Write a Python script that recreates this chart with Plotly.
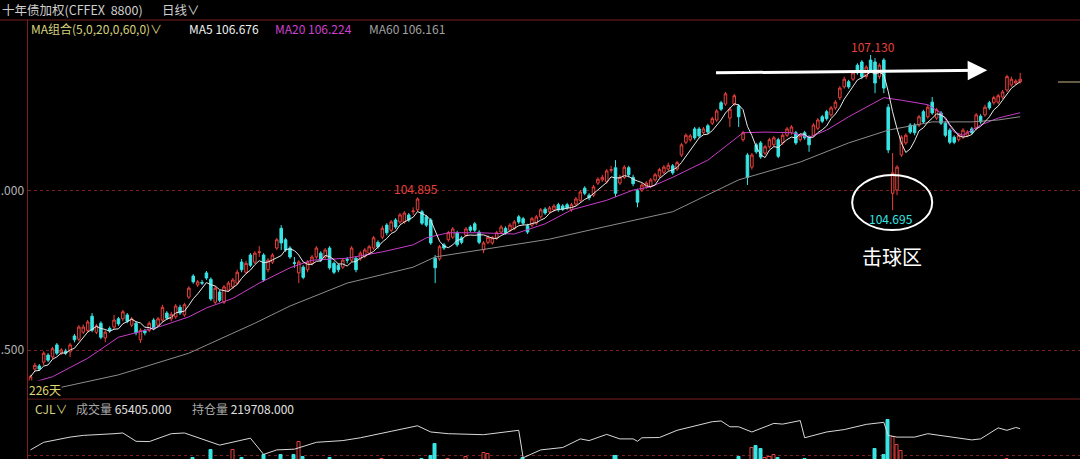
import plotly.graph_objects as go
import pandas as pd

# ---------------- data ----------------
opens = [
102.00,102.20,102.25,102.31,102.42,102.39,102.58,102.45,102.48,102.47,
102.72,102.67,102.78,102.81,103.03,102.78,102.92,102.69,102.84,102.86,
102.99,102.99,103.05,102.89,102.92,102.66,102.80,102.81,102.97,102.89,
102.97,103.08,102.99,103.02,103.17,103.05,103.33,103.66,103.52,103.56,
103.71,103.61,103.25,103.41,103.25,103.44,103.49,103.55,103.88,103.72,
103.99,103.88,104.03,103.99,103.76,103.88,104.10,104.41,104.23,104.10,
103.87,103.71,103.80,103.76,103.86,103.96,104.02,103.96,104.10,103.86,
103.83,103.80,103.92,103.91,103.94,103.93,103.97,104.02,104.10,104.19,
104.27,104.46,104.38,104.54,104.51,104.51,104.62,104.67,104.70,104.67,
104.59,104.54,103.94,103.93,104.15,104.23,104.27,104.34,104.26,104.30,
104.43,104.48,104.35,104.07,104.19,104.18,104.26,104.35,104.41,104.38,
104.41,104.59,104.56,104.45,104.46,104.49,104.59,104.71,104.67,104.70,
104.78,104.76,104.78,104.70,104.79,104.85,105.04,104.93,104.93,105.12,
105.17,105.14,105.32,105.36,105.12,105.21,105.36,105.21,105.00,105.01,
105.06,105.07,105.17,105.23,105.29,105.34,105.39,105.34,105.56,105.76,
105.80,105.97,105.97,105.91,106.02,106.06,106.11,106.38,106.36,106.14,
106.36,106.33,105.80,105.56,105.37,105.72,105.75,105.59,105.69,105.72,
105.80,105.75,105.87,105.91,105.91,105.80,105.91,105.84,105.87,105.98,
106.16,106.24,106.19,106.30,106.46,106.63,106.71,106.75,106.97,107.02,
106.79,107.05,107.02,106.79,107.05,106.31,104.96,105.01,105.56,105.75,
106.03,106.03,106.03,106.24,106.16,106.39,106.14,106.22,106.06,105.95,
105.84,105.80,105.84,105.87,105.97,105.98,106.17,106.19,106.38,106.38,
106.39,106.47,106.58,106.66,106.69,106.71]
highs = [
102.11,102.30,102.28,102.48,102.45,102.55,102.61,102.53,102.52,102.61,
102.75,102.89,102.90,102.97,103.08,102.91,102.95,102.81,102.87,103.05,
103.02,103.13,103.08,103.02,102.95,102.84,102.83,102.95,103.00,103.02,
103.21,103.11,103.10,103.22,103.21,103.24,103.50,103.69,103.60,103.60,
103.74,103.64,103.50,103.44,103.52,103.58,103.63,103.76,103.93,103.90,
104.02,104.05,104.13,104.02,103.94,104.02,104.26,104.46,104.26,104.13,
103.96,103.91,103.83,103.91,103.99,104.13,104.05,104.10,104.13,103.89,
103.86,103.94,103.96,104.13,103.97,104.05,104.10,104.15,104.29,104.22,
104.45,104.49,104.54,104.57,104.65,104.68,104.65,104.74,104.895,104.70,
104.62,104.57,103.99,104.15,104.18,104.37,104.43,104.37,104.29,104.43,
104.46,104.51,104.38,104.21,104.30,104.29,104.37,104.46,104.44,104.49,
104.54,104.62,104.59,104.48,104.59,104.62,104.73,104.74,104.76,104.79,
104.81,104.79,104.81,104.81,104.90,105.01,105.07,104.96,105.09,105.21,
105.25,105.34,105.39,105.48,105.25,105.40,105.39,105.25,105.03,105.12,
105.15,105.20,105.28,105.36,105.40,105.44,105.42,105.47,105.75,105.90,
105.89,106.00,106.00,106.00,106.05,106.16,106.28,106.41,106.55,106.31,
106.52,106.36,105.94,105.59,105.59,105.75,105.78,105.72,105.83,105.86,
105.83,105.90,106.00,106.03,105.94,105.90,105.94,105.87,106.06,106.14,
106.19,106.27,106.33,106.42,106.64,106.79,106.74,106.88,107.00,107.05,
106.97,107.13,107.08,107.00,107.08,106.36,105.59,105.40,105.87,105.90,
106.06,106.06,106.19,106.27,106.35,106.47,106.30,106.25,106.09,105.98,
105.87,105.90,105.98,105.95,106.00,106.22,106.20,106.35,106.41,106.49,
106.52,106.58,106.82,106.79,106.75,106.85]
lows = [
101.96,102.17,102.17,102.26,102.31,102.36,102.42,102.42,102.42,102.39,
102.62,102.64,102.75,102.78,102.78,102.75,102.67,102.62,102.77,102.83,
102.88,102.95,102.92,102.86,102.73,102.61,102.73,102.78,102.81,102.86,
102.94,102.97,102.95,102.99,103.05,103.02,103.30,103.54,103.49,103.52,
103.60,103.27,103.22,103.25,103.22,103.41,103.46,103.52,103.72,103.69,
103.80,103.85,103.96,103.57,103.72,103.85,104.07,104.07,104.04,103.93,
103.79,103.55,103.61,103.72,103.83,103.93,103.88,103.93,103.76,103.69,
103.72,103.77,103.86,103.88,103.72,103.90,103.94,103.99,104.07,104.09,
104.24,104.30,104.35,104.40,104.48,104.48,104.51,104.62,104.67,104.46,
104.43,104.15,103.55,103.90,104.07,104.20,104.24,104.12,104.16,104.27,
104.35,104.35,104.16,104.02,104.16,104.15,104.23,104.32,104.31,104.35,
104.38,104.48,104.46,104.32,104.43,104.46,104.56,104.62,104.64,104.67,
104.67,104.68,104.70,104.67,104.76,104.82,104.93,104.85,104.90,105.09,
105.14,105.11,105.28,104.90,105.09,105.18,105.21,105.07,104.74,104.98,
105.03,105.04,105.14,105.20,105.26,105.31,105.25,105.31,105.53,105.73,
105.77,105.80,105.83,105.88,105.89,106.03,106.08,106.25,106.33,106.00,
106.33,106.00,105.77,105.09,105.33,105.58,105.50,105.56,105.66,105.69,
105.51,105.72,105.84,105.88,105.72,105.77,105.80,105.61,105.84,105.95,
106.06,106.10,106.16,106.27,106.42,106.60,106.60,106.72,106.82,106.75,
106.75,106.85,106.53,106.75,106.53,105.59,104.695,104.93,105.53,105.72,
105.89,105.87,106.00,106.05,106.13,106.19,106.11,106.03,105.84,105.73,
105.73,105.77,105.81,105.84,105.88,105.95,106.05,106.16,106.27,106.35,
106.36,106.44,106.55,106.63,106.66,106.68]
closes = [
102.08,102.26,102.20,102.45,102.34,102.52,102.45,102.50,102.45,102.58,
102.66,102.86,102.86,102.94,102.81,102.88,102.70,102.78,102.80,102.97,
102.91,103.10,102.95,102.99,102.77,102.81,102.77,102.92,102.84,102.99,
103.17,103.00,103.06,103.19,103.08,103.21,103.47,103.57,103.57,103.55,
103.63,103.30,103.47,103.28,103.49,103.55,103.60,103.72,103.76,103.86,
103.83,104.02,104.04,103.60,103.91,103.99,104.23,104.18,104.07,103.96,
103.86,103.88,103.64,103.88,103.96,104.10,103.91,104.07,103.79,103.72,
103.76,103.91,103.91,104.10,103.76,104.02,104.07,104.12,104.26,104.12,
104.41,104.34,104.51,104.43,104.62,104.65,104.54,104.68,104.87,104.49,
104.46,104.18,103.79,104.12,104.10,104.34,104.40,104.15,104.19,104.40,
104.38,104.38,104.19,104.18,104.27,104.26,104.34,104.43,104.34,104.46,
104.51,104.51,104.49,104.35,104.56,104.59,104.70,104.65,104.73,104.76,
104.70,104.71,104.73,104.78,104.87,104.98,104.96,104.89,105.06,105.18,
105.21,105.31,105.33,104.96,105.21,105.37,105.25,105.11,104.82,105.09,
105.12,105.17,105.25,105.33,105.37,105.40,105.28,105.44,105.72,105.87,
105.86,105.83,105.86,105.97,105.92,106.13,106.25,106.28,106.52,106.28,
106.49,106.16,105.91,105.21,105.56,105.61,105.53,105.69,105.80,105.83,
105.54,105.87,105.97,106.00,105.75,105.87,105.83,105.72,106.03,106.11,
106.09,106.13,106.30,106.39,106.61,106.75,106.63,106.85,106.85,106.79,
106.94,106.89,106.69,106.97,106.61,105.64,105.28,105.37,105.84,105.87,
105.92,105.91,106.16,106.08,106.31,106.22,106.27,106.06,105.87,105.76,
105.76,105.87,105.95,105.92,105.91,106.19,106.08,106.31,106.30,106.46,
106.49,106.55,106.79,106.75,106.72,106.75]

ma20_idx = [0,5,13,20,30,36,40,46,52,59,64,72,80,87,90,95,102,110,117,123,
            131,137,141,146,154,158,162,167,173,177,181,186,190,194,198,204,207,210,212,216,
            220,225]
ma20_val = [101.98,102.08,102.37,102.70,102.88,103.02,103.16,103.31,103.55,103.79,
            103.91,103.94,104.04,104.15,104.26,104.34,104.34,104.32,104.48,104.70,
            104.85,105.01,105.06,105.21,105.48,105.69,105.91,105.92,105.91,105.84,
            105.95,106.16,106.31,106.46,106.42,106.35,106.22,105.92,105.87,106.03,
            106.14,106.224]
ma60_idx = [0,6,20,36,51,59,72,87,92,102,118,127,146,161,175,186,195,205,214,220,225]
ma60_val = [101.79,101.90,102.11,102.45,102.92,103.19,103.55,103.80,103.96,104.07,
            104.24,104.38,104.67,105.17,105.45,105.75,105.95,106.08,106.08,106.11,106.161]

vol_idx = [37,41,46,48,53,57,60,61,62,68,80,89,91,92,95,99,103,104,112,133,
           161,164,165,166,167,168,169,170,176,192,194,195,196,197,198,222]
vol_val = [100000,125300,125300,100000,110000,110000,110000,150000,104000,100000,
           99000,99000,107000,143000,99000,104000,117000,113000,101600,107000,
           105000,132500,136000,128000,102000,104000,109000,100000,99000,128000,
           109000,215000,164000,140000,122000,99000]

oi_idx = [0,3,9,12,19,21,24,27,32,35,43,50,53,56,60,65,71,75,82,87,88,91,95,103,110,111,112,
          116,121,125,127,131,134,137,138,139,143,147,155,157,159,161,164,169,171,175,176,
          181,185,190,194,195,197,201,204,207,210,214,216,220,222,224,225]
oi_val = [166500,185500,198500,202800,207000,208800,188000,187300,207000,208800,178500,195800,
          155300,166500,168300,185500,189800,196800,213000,224300,226800,211300,207000,204500,
          213000,215500,146800,166500,172500,194000,189800,205300,194000,194000,188000,196800,
          197500,215500,237000,238800,224300,224300,211300,232800,231000,239800,196800,211300,
          217300,230300,235500,202800,198500,198500,207000,202800,196800,191500,194000,221500,
          215500,222500,219708]

# tick labels as they are visible in the picture (left part cut off by the panel edge)
ticks_main = [102.5, 105.0]
ticks_main_text = [".500", ".000"]
vol_tick = [110000]
vol_tick_text = ["11万"]

# ---------------- styles ----------------
RED = "#e8403c"
CYAN = "#38e4e4"
GRID = "#7a1f1f"
FONT = "Noto Sans CJK SC"
W, H = 1080, 459

x = list(range(len(closes)))
ma5 = pd.Series(closes).rolling(5, min_periods=1).mean().tolist()

fig = go.Figure()
fig.add_trace(go.Candlestick(
    x=x, open=opens, high=highs, low=lows, close=closes,
    increasing=dict(line=dict(color=RED, width=1), fillcolor="#000000"),
    decreasing=dict(line=dict(color=CYAN, width=1), fillcolor=CYAN),
    whiskerwidth=0, xaxis="x", yaxis="y", showlegend=False, hoverinfo="skip"))
fig.add_trace(go.Scatter(x=ma20_idx, y=ma20_val, mode="lines",
                         line=dict(color="#c83cc8", width=1), xaxis="x", yaxis="y", showlegend=False))
fig.add_trace(go.Scatter(x=ma60_idx, y=ma60_val, mode="lines",
                         line=dict(color="#8c8c8c", width=1), xaxis="x", yaxis="y", showlegend=False))
fig.add_trace(go.Scatter(x=x, y=ma5, mode="lines",
                         line=dict(color="#e8e8e8", width=1), xaxis="x", yaxis="y", showlegend=False))

vol_up = [closes[i] >= opens[i] for i in vol_idx]
fig.add_trace(go.Bar(
    x=vol_idx, y=vol_val, width=0.7, xaxis="x2", yaxis="y2", showlegend=False,
    marker=dict(color=["#000000" if u else CYAN for u in vol_up],
                line=dict(color=[RED if u else CYAN for u in vol_up], width=1))))
fig.add_trace(go.Scatter(x=oi_idx, y=oi_val, mode="lines", line=dict(color="#d8d8d8", width=1),
                         xaxis="x2", yaxis="y3", showlegend=False))

def px_x(p):
    return p / W

def px_y(p):
    return (H - p) / H

main_bottom = px_y(399)
main_top = px_y(20)
left = px_x(27.5)
xr = [-0.68, 238.6]

fig.update_layout(
    width=W, height=H, margin=dict(l=0, r=0, t=0, b=0, autoexpand=False),
    paper_bgcolor="#000000", plot_bgcolor="#000000",
    font=dict(family=FONT, color="#c8c8c8"),
    bargap=0, boxgap=0.18,
    xaxis=dict(domain=[left, 1], range=xr, showgrid=False, zeroline=False, automargin=False,
               showticklabels=False, rangeslider=dict(visible=False), anchor="y"),
    xaxis2=dict(domain=[left, 1], range=xr, showgrid=False, zeroline=False, automargin=False,
                showticklabels=False, anchor="y2", matches="x"),
    yaxis=dict(domain=[main_bottom, main_top], range=[101.731, 107.679], automargin=False,
               tickvals=ticks_main, ticktext=ticks_main_text,
               tickfont=dict(size=12, color="#b4b4b4", family=FONT),
               showgrid=True, gridcolor=GRID, griddash="dot", gridwidth=1,
               showline=True, linecolor=GRID, linewidth=1, zeroline=False, ticks=""),
    yaxis2=dict(domain=[0, main_bottom], range=[98000, 278000], automargin=False,
                tickvals=vol_tick, ticktext=vol_tick_text,
                tickfont=dict(size=11, color="#b4b4b4", family=FONT),
                showgrid=True, gridcolor=GRID, griddash="dot", gridwidth=1,
                showline=True, linecolor=GRID, linewidth=1, zeroline=False, ticks=""),
    yaxis3=dict(overlaying="y2", range=[143750, 293750], visible=False, automargin=False),
)

shapes = [
    dict(type="line", xref="paper", yref="paper", x0=0, x1=1, y0=main_top, y1=main_top,
         line=dict(color=GRID, width=1)),
    dict(type="line", xref="paper", yref="paper", x0=left, x1=1, y0=main_bottom, y1=main_bottom,
         line=dict(color=GRID, width=1)),
    dict(type="line", xref="paper", yref="paper", x0=px_x(1058), x1=1, y0=px_y(82), y1=px_y(82),
         line=dict(color="#c8b882", width=1)),
    dict(type="circle", xref="x", yref="y", x0=186.8, x1=205.0, y0=104.383, y1=105.247,
         line=dict(color="#ffffff", width=2)),
]
fig.update_layout(shapes=shapes)

def txt(xp, yp, s, color, size=12, anchor="left", bg=None):
    d = dict(x=px_x(xp), y=px_y(yp), xref="paper", yref="paper", text=s, showarrow=False,
             xanchor=anchor, yanchor="middle", font=dict(color=color, size=size, family=FONT))
    if bg:
        d["bgcolor"] = bg
        d["borderpad"] = 0
    return d

ann = [
    txt(0, 9, "十年债加权(CFFEX  8800)", "#cfcfcf", 12.5),
    txt(160, 9, "日线∨", "#cfcfcf", 12.5),
    txt(29, 28, "MA组合(5,0,20,0,60,0)∨", "#d6d27c", 12),
    txt(187, 28, "MA5 106.676", "#f0f0f0", 12),
    txt(273, 28, "MA20 106.224", "#d040d0", 12),
    txt(367, 28, "MA60 106.161", "#a0a0a0", 12),
    txt(28, 389, "226天", "#e0d870", 12, bg="#000000"),
    txt(33, 408, "CJL∨", "#d6d27c", 12),
    txt(74, 408, "<span style='color:#a8a8a8'>成交量</span> 65405.000", "#e0e0e0", 12),
    txt(190, 408, "<span style='color:#a8a8a8'>持仓量</span> 219708.000", "#e0e0e0", 12),
    dict(x=191.6, y=107.27, xref="x", yref="y", text="107.130", showarrow=False,
         font=dict(color=RED, size=12, family=FONT)),
    dict(x=87.7, y=105.03, xref="x", yref="y", text="104.895", showarrow=False,
         font=dict(color=RED, size=12, family=FONT)),
    dict(x=195.7, y=104.556, xref="x", yref="y", text="104.695", showarrow=False,
         font=dict(color=CYAN, size=12, family=FONT)),
    dict(x=195.9, y=103.96, xref="x", yref="y", text="击球区", showarrow=False,
         font=dict(color="#ffffff", size=20, family=FONT)),
    dict(x=217.5, y=106.89, ax=155.5, ay=106.85, xref="x", yref="y", axref="x", ayref="y",
         text="", showarrow=True, arrowhead=2, arrowsize=1.3, arrowwidth=3,
         arrowcolor="#ffffff", standoff=0, startstandoff=0),
]
fig.update_layout(annotations=ann)

fig.write_html(
    "out.html",
    config={"displayModeBar": False},
    post_script="document.body.style.margin='0px';document.body.style.background='#000';",
)
